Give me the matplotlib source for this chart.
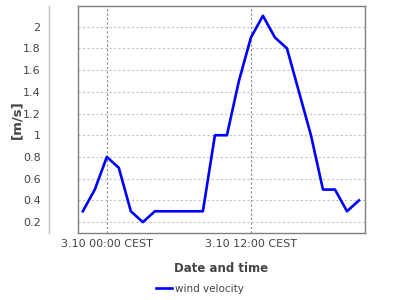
import matplotlib
matplotlib.use("Agg")
import matplotlib.pyplot as plt

# Data: hours relative to 3.10 00:00 CEST, wind velocity in m/s
hours = [-2, -1, 0, 1, 2, 3, 4, 5, 6, 7, 8, 9, 10, 11, 12, 13, 14, 15, 16, 17, 18, 19, 20, 21]
wind_velocity = [0.3, 0.5, 0.8, 0.7, 0.3, 0.2, 0.3, 0.3, 0.3, 0.3, 0.3, 1.0, 1.0, 1.5, 1.9, 2.1,
                 1.9, 1.8, 1.4, 1.0, 0.5, 0.5, 0.3, 0.4]
x_tick_hours = [0, 12]
x_tick_labels = ["3.10 00:00 CEST", "3.10 12:00 CEST"]
y_ticks = [0.2, 0.4, 0.6, 0.8, 1.0, 1.2, 1.4, 1.6, 1.8, 2.0]
y_tick_labels = ["0.2", "0.4", "0.6", "0.8", "1", "1.2", "1.4", "1.6", "1.8", "2"]
series_name = "wind velocity"

plt.rcParams['font.family'] = ['DejaVu Sans']
fig = plt.figure(figsize=(4, 3), dpi=100)
ax = fig.add_axes([78/400, 1-233/300, (365-78)/400, (233-6)/300])

line, = ax.plot(hours, wind_velocity, color='#0000ff', lw=1.9, label=series_name)

ax.set_xlim(-2.4, 21.5)
ax.set_ylim(0.1, 2.19)

ax.set_yticks(y_ticks)
ax.set_yticklabels(y_tick_labels)
ax.set_xticks(x_tick_hours)
ax.set_xticklabels(x_tick_labels)

ax.tick_params(axis='y', length=0, pad=6, labelsize=8, labelcolor='#444444')
ax.tick_params(axis='x', length=0, pad=4, labelsize=8, labelcolor='#444444')

ax.yaxis.grid(True, color='#c4c4c4', linestyle=(0, (2, 2)), lw=0.8)
ax.xaxis.grid(True, color='#888888', linestyle=(0, (2, 2)), lw=0.8)

for s in ['top', 'right', 'bottom']:
    ax.spines[s].set_color('#808080')
    ax.spines[s].set_linewidth(1.0)
ax.spines['left'].set_position(('outward', 21))
ax.spines['left'].set_color('#c0c0c0')
ax.spines['left'].set_linewidth(1.0)
ax.plot([0, 0], [0, 1], transform=ax.transAxes, color='#808080', lw=1.0, clip_on=False)

ax.set_ylabel("[m/s]", fontsize=9.5, fontweight='bold', color='#444444')
ax.yaxis.set_label_coords(-0.19, 0.5)
ax.set_xlabel("Date and time", fontsize=8.5, fontweight='bold', color='#444444')
ax.xaxis.set_label_coords(0.5, -0.128)

fig.legend(handles=[line], loc='center', bbox_to_anchor=(0.5, 1-289/300), frameon=False,
           fontsize=7.5, handlelength=1.5, handletextpad=0.3, labelcolor='#444444')

fig.savefig("out.png", dpi=100)
